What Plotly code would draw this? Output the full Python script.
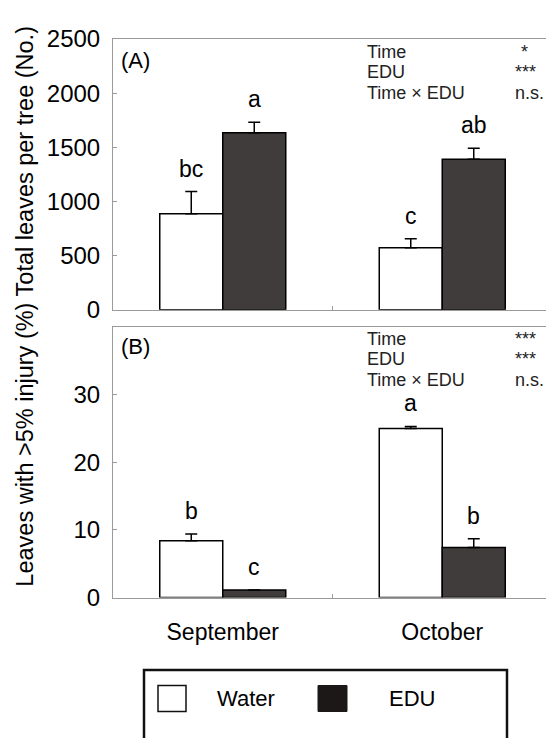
import plotly.graph_objects as go

# ---------------- data ----------------
months = ["September", "October"]

water_leaves = [887, 572]
water_leaves_err = [205, 84]
edu_leaves = [1634, 1391]
edu_leaves_err = [98, 101]

water_injury = [8.4, 25.0]
water_injury_err = [1.0, 0.3]
edu_injury = [1.1, 7.4]
edu_injury_err = [0.0, 1.3]

letters_leaves_water = ["bc", "c"]
letters_leaves_edu = ["a", "ab"]
letters_injury_water = ["b", "a"]
letters_injury_edu = ["c", "b"]

leaves_ticks = [0, 500, 1000, 1500, 2000, 2500]
injury_ticks = [0, 10, 20, 30]

stats_terms = ["Time", "EDU", "Time \u00d7 EDU"]
stats_leaves = ["*", "***", "n.s."]
stats_injury = ["***", "***", "n.s."]

series_names = ["Water", "EDU"]

# ---------------- style ----------------
W, H = 546, 738
FONT = "Liberation Sans, Arial, sans-serif"
AXIS_GRAY = "#9a9a9a"
EDU_FILL = "#403c3b"
BARGAP = 0.426
X_LEFT = 113
CAT_PX = 219.5


def py(pix):
    return 1 - pix / H


def px(pix):
    return pix / W


fig = go.Figure()


def add_bars(xa, ya, wv, we, ev, ee):
    fig.add_trace(go.Bar(
        x=months, y=wv, name=series_names[0], xaxis=xa, yaxis=ya,
        marker=dict(color="white", line=dict(color="black", width=1.5)),
        error_y=dict(type="data", array=we, arrayminus=[0] * len(we),
                     symmetric=False, color="black", thickness=1.5, width=6),
        showlegend=False,
    ))
    fig.add_trace(go.Bar(
        x=months, y=ev, name=series_names[1], xaxis=xa, yaxis=ya,
        marker=dict(color=EDU_FILL, line=dict(color="black", width=1.5)),
        error_y=dict(type="data", array=ee, arrayminus=[0] * len(ee),
                     symmetric=False, color="black", thickness=1.5, width=6),
        showlegend=False,
    ))


add_bars("x", "y", water_leaves, water_leaves_err, edu_leaves, edu_leaves_err)
add_bars("x2", "y2", water_injury, water_injury_err, edu_injury, edu_injury_err)

annotations = []
half = (1 - BARGAP) / 4


def add_letters(xref, yref, vals, errs, letters, offset):
    for i, (v, e, t) in enumerate(zip(vals, errs, letters)):
        annotations.append(dict(
            x=i + offset, y=v + e, xref=xref, yref=yref, text=t,
            showarrow=False, yanchor="middle", yshift=23,
            font=dict(family=FONT, size=23, color="black"),
        ))


add_letters("x", "y", water_leaves, water_leaves_err, letters_leaves_water, -half)
add_letters("x", "y", edu_leaves, edu_leaves_err, letters_leaves_edu, half)
add_letters("x2", "y2", water_injury, water_injury_err, letters_injury_water, -half)
add_letters("x2", "y2", edu_injury, edu_injury_err, letters_injury_edu, half)


def add_stats(top_pix, marks):
    for k, (term, mark) in enumerate(zip(stats_terms, marks)):
        yc = top_pix + 21.5 * k
        annotations.append(dict(
            x=px(365), y=py(yc), xref="paper", yref="paper", text=term,
            showarrow=False, xanchor="left", yanchor="middle",
            font=dict(family=FONT, size=18, color="#222")))
        if mark == "*":
            annotations.append(dict(
                x=px(524), y=py(yc), xref="paper", yref="paper", text=mark,
                showarrow=False, xanchor="center", yanchor="middle",
                font=dict(family=FONT, size=18, color="#222")))
        else:
            annotations.append(dict(
                x=px(513), y=py(yc), xref="paper", yref="paper", text=mark,
                showarrow=False, xanchor="left", yanchor="middle",
                font=dict(family=FONT, size=18, color="#222")))


add_stats(39, stats_leaves)
add_stats(337, stats_injury)

for lab, yc in [("(A)", 48), ("(B)", 345)]:
    annotations.append(dict(
        x=px(119), y=py(yc), xref="paper", yref="paper", text=lab,
        showarrow=False, xanchor="left", yanchor="middle",
        font=dict(family=FONT, size=22, color="black")))

for lab, yc in [("Total leaves per tree (No.)", 153), ("Leaves with >5% injury (%)", 447)]:
    annotations.append(dict(
        x=px(25), y=py(yc), xref="paper", yref="paper", text=lab,
        showarrow=False, xanchor="center", yanchor="middle", textangle=-90,
        font=dict(family=FONT, size=23.5, color="black")))

# legend box (drawn)
shapes = [
    dict(type="rect", xref="paper", yref="paper", x0=px(144), x1=px(507),
         y0=py(760), y1=py(681), line=dict(color="#111", width=2.5), fillcolor="rgba(0,0,0,0)"),
    dict(type="rect", xref="paper", yref="paper", x0=px(158), x1=px(186),
         y0=py(724), y1=py(697), line=dict(color="#111", width=1.5), fillcolor="white"),
    dict(type="rect", xref="paper", yref="paper", x0=px(318), x1=px(347),
         y0=py(724), y1=py(697), line=dict(color="#1c1818", width=1), fillcolor="#1c1818"),
]
for name, xl in zip(series_names, [215, 387]):
    annotations.append(dict(
        x=px(xl), y=py(711), xref="paper", yref="paper", text=name,
        showarrow=False, xanchor="left", yanchor="middle",
        font=dict(family=FONT, size=22, color="black")))

x_range = [-0.5, -0.5 + (W - X_LEFT) / CAT_PX]
xdom = [px(X_LEFT), 1.0]

common_x = dict(domain=xdom, range=x_range, type="category", showline=True,
                linecolor=AXIS_GRAY, linewidth=1, mirror=True, ticks="inside",
                ticklen=4, tickcolor=AXIS_GRAY, tickson="boundaries",
                showgrid=False, zeroline=False, layer="below traces")
common_y = dict(showline=True, linecolor=AXIS_GRAY, linewidth=1, ticks="inside",
                ticklen=4, tickcolor=AXIS_GRAY, showgrid=False, zeroline=False,
                tickfont=dict(family=FONT, size=24, color="black"),
                ticklabelstandoff=7)

fig.update_layout(
    width=W, height=H,
    margin=dict(l=0, r=0, t=0, b=0),
    paper_bgcolor="white", plot_bgcolor="white",
    barmode="group", bargap=BARGAP, bargroupgap=0,
    xaxis=dict(**common_x, anchor="y", showticklabels=False),
    yaxis=dict(**common_y, anchor="x", domain=[py(307), py(26)], range=[0, 2500],
               tickvals=leaves_ticks),
    xaxis2=dict(**common_x, anchor="y2", showticklabels=True,
                tickfont=dict(family=FONT, size=23, color="black"),
                ticklabelstandoff=14),
    yaxis2=dict(**common_y, anchor="x2", domain=[py(605.7), py(325)], range=[0, 40],
                tickvals=injury_ticks),
    annotations=annotations,
    shapes=shapes,
    showlegend=False,
)

fig.write_html(
    "out.html",
    config={"displayModeBar": False},
    post_script="document.body.style.margin='0px';document.body.style.overflow='hidden';",
)
